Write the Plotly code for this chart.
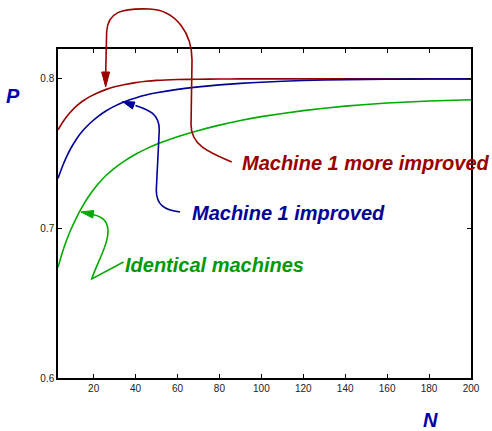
import plotly.graph_objects as go

# ---- data ----
N = [3, 5, 7, 9, 12, 15, 18, 22, 26, 30, 35, 40, 45, 50, 60, 70, 80, 90, 100,
     120, 140, 160, 180, 200]
p_more_improved = [0.766, 0.7705, 0.7745, 0.7779, 0.7821, 0.7854, 0.7880, 0.7908, 0.7930,
                   0.7947, 0.7963, 0.7975, 0.7984, 0.7990, 0.7996, 0.7998, 0.7999, 0.8,
                   0.8, 0.8, 0.8, 0.8, 0.8, 0.8]
p_improved = [0.7335, 0.7411, 0.7477, 0.7533, 0.7602, 0.7656, 0.7700, 0.7748, 0.7787,
              0.7818, 0.7849, 0.7873, 0.7892, 0.7907, 0.7930, 0.7947, 0.7960, 0.7970,
              0.7978, 0.7989, 0.7995, 0.7998, 0.7999, 0.8]
p_identical = [0.674, 0.6836, 0.6918, 0.6988, 0.7078, 0.7156, 0.7222, 0.7296, 0.7356,
               0.7404, 0.7454, 0.7496, 0.7532, 0.7563, 0.7613, 0.7655, 0.7691, 0.7722,
               0.7748, 0.7788, 0.7818, 0.7839, 0.7852, 0.7861]
x_ticks = [20, 40, 60, 80, 100, 120, 140, 160, 180, 200]
y_ticks = [0.6, 0.7, 0.8]
series_names = ["Machine 1 more improved", "Machine 1 improved", "Identical machines"]

RED = "#990000"
BLUE = "#000099"
GREEN = "#00AA00"
GREEN_TXT = "#009900"
FONT = "Liberation Sans, Arial, sans-serif"

W, H = 492, 431
L, R, T, B = 58, 18, 49, 53
PW, PH = W - L - R, H - T - B


def px(x, y):
    return (x - L) / PW, (H - B - y) / PH


def path_from_pixels(cmds):
    out = []
    for c in cmds:
        op, pts = c[0], c[1:]
        s = op
        for (x, y) in pts:
            a, b = px(x, y)
            s += f" {a:.4f},{b:.4f}"
        out.append(s)
    return " ".join(out)


fig = go.Figure()
for y, c, name in [(p_more_improved, RED, series_names[0]),
                   (p_improved, BLUE, series_names[1]),
                   (p_identical, GREEN, series_names[2])]:
    fig.add_trace(go.Scatter(x=N, y=y, mode="lines", name=name,
                             line=dict(color=c, width=1.6, shape="spline", smoothing=0.5)))

shapes = []
# connector curves (pixel geometry converted to paper coords)
red_path = path_from_pixels([
    ("M", (233, 162)),
    ("C", (212, 153), (192, 146), (192, 125)),
    ("L", (193, 60)),
    ("C", (193, 35), (178, 10), (150, 9)),
    ("C", (122, 8), (108, 12), (107, 32)),
    ("L", (106, 74)),
])
blue_path = path_from_pixels([
    ("M", (181, 212)),
    ("C", (165, 210), (157, 205), (157, 190)),
    ("L", (160, 130)),
    ("C", (160, 114), (150, 110), (136, 105.5)),
])
green_path = path_from_pixels([
    ("M", (124, 262)),
    ("L", (92, 279)),
    ("C", (96, 266), (106, 250), (108, 236)),
    ("C", (110, 222), (104, 217), (93, 214.5)),
])
for pth, c in [(red_path, RED), (blue_path, BLUE), (green_path, GREEN)]:
    shapes.append(dict(type="path", xref="paper", yref="paper", path=pth,
                       line=dict(color=c, width=1.6), layer="above"))

# arrowheads
heads = [
    ([(106, 87), (102, 72), (110, 72)], RED),
    ([(123, 101.5), (135.5, 102), (133, 109)], BLUE),
    ([(81, 212), (94, 210.5), (93, 218)], GREEN),
]
for pts, c in heads:
    pth = path_from_pixels([("M", pts[0]), ("L", pts[1]), ("L", pts[2])]) + " Z"
    shapes.append(dict(type="path", xref="paper", yref="paper", path=pth,
                       fillcolor=c, line=dict(color=c, width=1), layer="above"))

annotations = []
for text, (x, y), c in [(series_names[0], (241, 163), RED),
                        (series_names[1], (191, 213), BLUE),
                        (series_names[2], (123, 265), GREEN_TXT)]:
    a, b = px(x, y)
    annotations.append(dict(text=f"<b><i>{text}</i></b>", x=a, y=b, xref="paper", yref="paper",
                            xanchor="left", yanchor="middle", showarrow=False,
                            font=dict(family=FONT, size=20, color=c)))
for text, (x, y) in [("P", (13, 96)), ("N", (433, 420))]:
    a, b = px(x, y)
    annotations.append(dict(text=f"<b><i>{text}</i></b>", x=a, y=b, xref="paper", yref="paper",
                            xanchor="center", yanchor="middle", showarrow=False,
                            font=dict(family=FONT, size=20, color="#0000AA")))

axis_common = dict(showline=True, linecolor="black", linewidth=1.5, mirror="ticks",
                   ticks="inside", ticklen=4, tickcolor="black", tickwidth=1,
                   showgrid=False, zeroline=False,
                   tickfont=dict(family=FONT, size=10, color="#222"))

fig.update_layout(
    width=W, height=H,
    margin=dict(l=L, r=R, t=T, b=B),
    paper_bgcolor="white", plot_bgcolor="white",
    showlegend=False,
    xaxis=dict(range=[3, 200], tickvals=x_ticks, **axis_common),
    yaxis=dict(range=[0.6, 0.82], tickvals=y_ticks, tickformat=".1f", **axis_common),
    shapes=shapes,
    annotations=annotations,
)

fig.write_html("out.html")
